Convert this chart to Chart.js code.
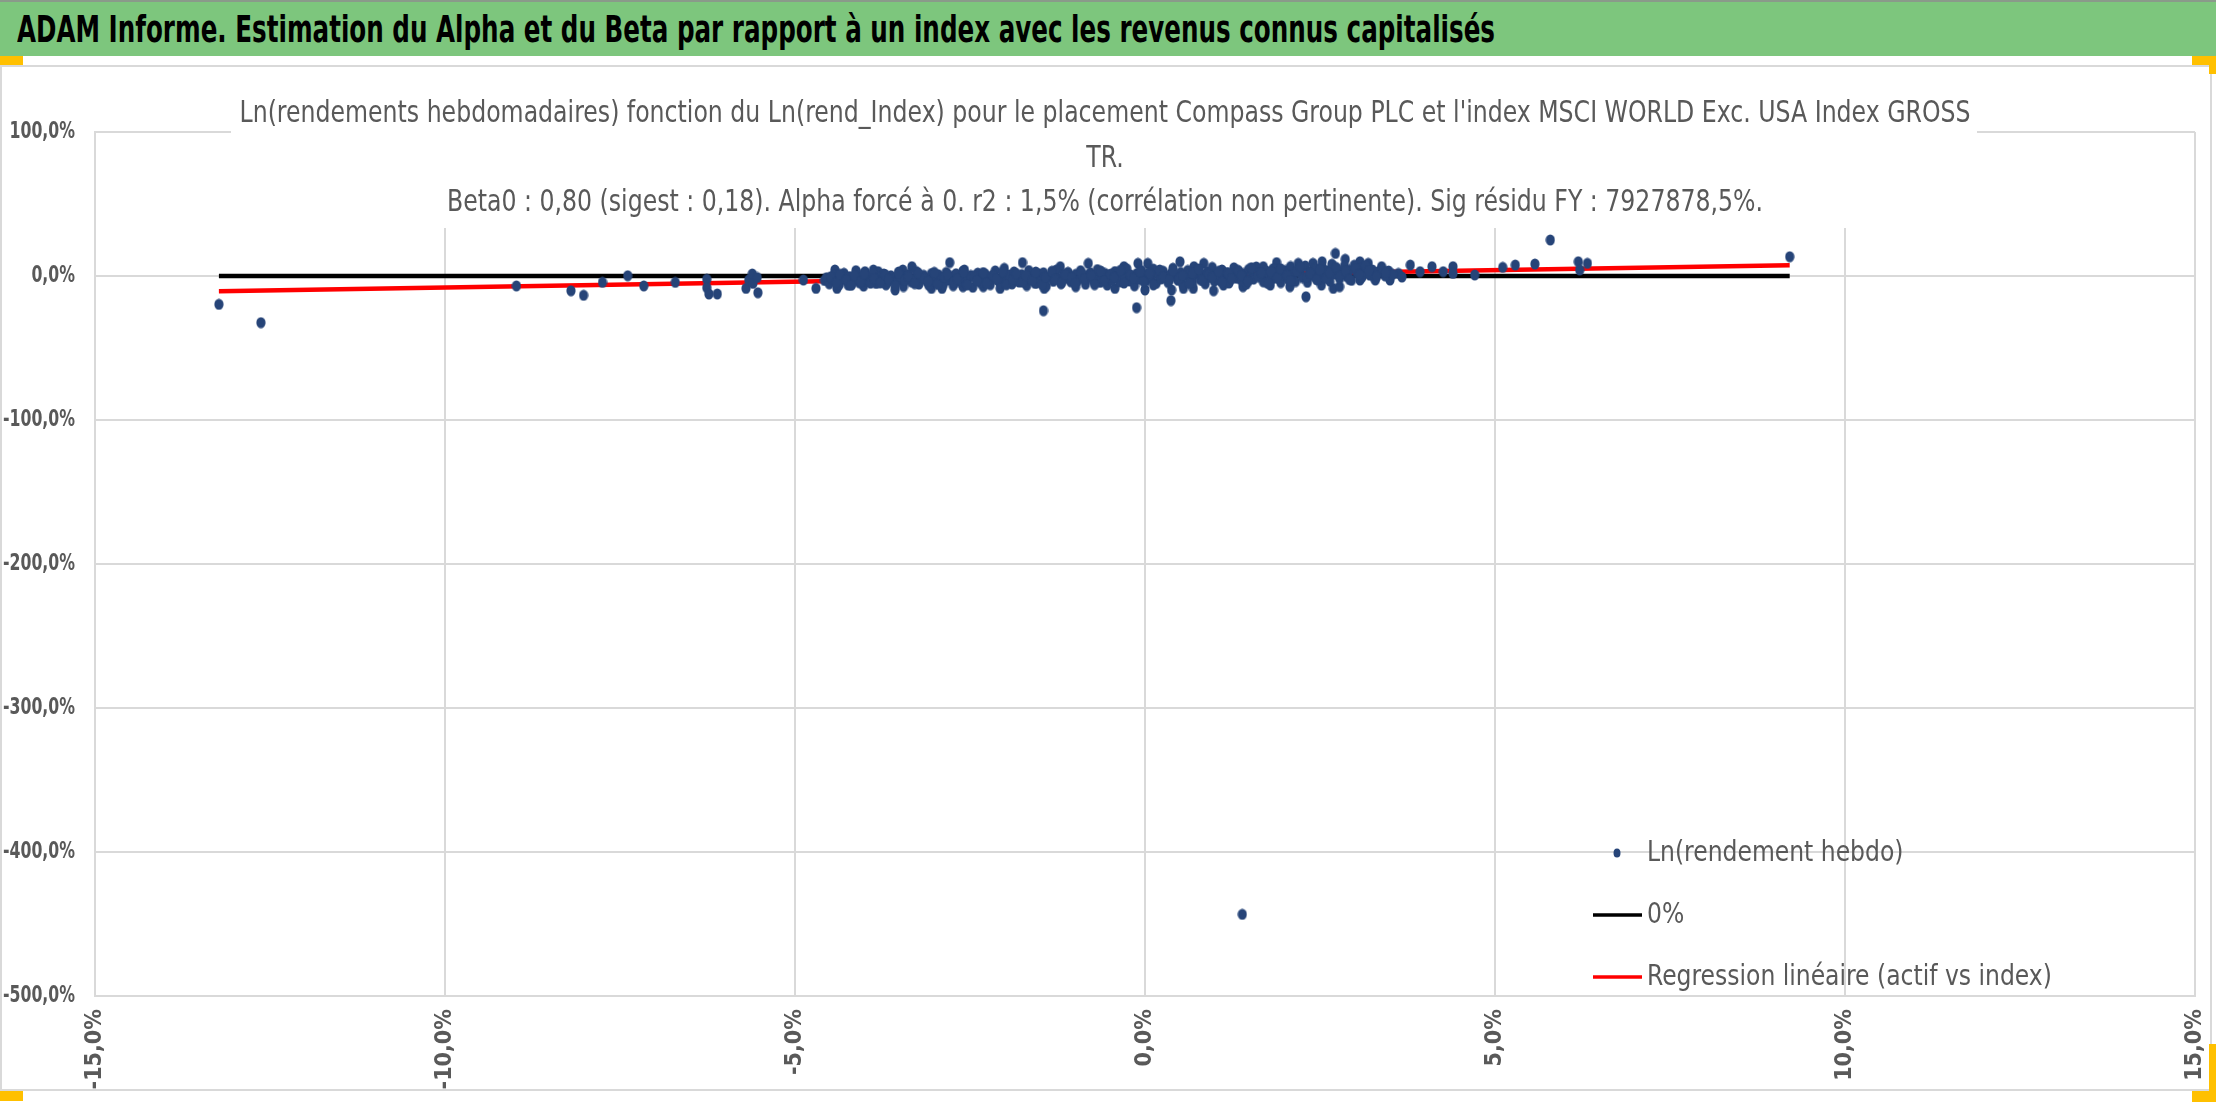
<!DOCTYPE html>
<html lang="fr">
<head>
<meta charset="utf-8">
<title>ADAM Informe - Alpha et Beta</title>
<script src="https://cdn.jsdelivr.net/npm/chart.js"></script>
<style>
  html, body { margin: 0; padding: 0; background: #fff; overflow: hidden; }
  #page { position: relative; width: 2216px; height: 1104px; }
  #cadre { position: absolute; left: 0; top: 65px; width: 2212px; height: 1026px;
           border: 2px solid #d9d9d9; box-sizing: border-box; }
  #zone { position: absolute; left: 0; top: 0; width: 2216px; height: 1104px; }
  #bandeau { position: absolute; left: 0; top: 0; width: 2216px; height: 56px;
             background: #7dc67d; border-top: 2px solid #8a9a8a; box-sizing: border-box; }
  #bandeau span { position: absolute; left: 17px; top: 1px; line-height: 52px;
                  font-family: 'DejaVu Sans Condensed', 'Liberation Sans Narrow', 'Open Sans', sans-serif;
                  font-weight: bold; font-size: 38px; color: #000; white-space: nowrap;
                  transform-origin: left center; }
  .poignee { position: absolute; background: #ffc000; }
</style>
</head>
<body>
<div id="page">
  <div id="cadre"></div>
  <div id="zone"><canvas id="graphe"></canvas></div>
  <div id="bandeau"><span id="titreBandeau">ADAM Informe. Estimation du Alpha et du Beta par rapport à un index avec les revenus connus capitalisés</span></div>
  <div class="poignee" style="left:0;top:56px;width:23px;height:9px"></div>
  <div class="poignee" style="left:2192px;top:56px;width:24px;height:9px"></div>
  <div class="poignee" style="left:2209px;top:56px;width:7px;height:18px"></div>
  <div class="poignee" style="left:0;top:1091px;width:23px;height:10px"></div>
  <div class="poignee" style="left:2192px;top:1091px;width:24px;height:11px"></div>
  <div class="poignee" style="left:2209px;top:1044px;width:7px;height:58px"></div>
</div>

<script>
// Police proche de Calibri (condensée)
const FONT = "'DejaVu Sans Condensed', 'Liberation Sans Narrow', 'Open Sans', sans-serif";

// Ln(rend_Index) en % (axe X) / Ln(rendement hebdo) en % (axe Y)
// queue gauche (grosses baisses de l'index)
const queueGaucheX = [-13.23,-12.63,-8.98,-8.20,-8.02,-7.75,-7.39,-7.16,-6.71,-6.26,-6.26,-6.23,-6.11,-5.70,-5.66,-5.61,-5.60,-5.54,-5.53,-4.88,-4.70];
const queueGaucheY = [-19.7,-32.4,-6.9,-10.2,-13.4,-4.4,0.2,-6.9,-4.4,-2.3,-8.1,-12.5,-12.5,-8.6,-2.8,1.4,-5.1,-1.0,-11.6,-2.8,-8.6];

// bords du nuage (points qui dépassent en haut / en bas)
const bordsX = [-4.43,-4.40,-4.24,-4.13,-4.00,-3.88,-3.81,-3.57,-3.46,-3.33,
  -3.05,-2.90,-2.79,-2.60,-2.58,-2.31,-2.07,-2.01,-1.75,-1.57,
  -1.45,-1.44,-1.21,-0.99,-0.81,-0.43,-0.30,-0.12,-0.10,0.00,
  0.04,0.37,0.38,0.50,0.55,0.69,0.70,0.84,0.98,1.12,
  1.40,1.69,1.79,1.88,2.07,2.19,2.30,2.40,2.52,2.53,
  2.69,2.72,2.78,2.86,3.07,3.07,3.19,3.29,3.38,3.50,
  3.62,3.67,3.79];
const bordsY = [4.2,-8.6,-6.3,3.7,3.0,4.2,3.0,-9.7,4.2,6.5,
  -8.6,-8.6,9.3,-7.4,4.2,-7.4,-8.6,5.3,9.3,-5.1,
  -24.1,-8.6,6.5,-7.4,8.8,-8.6,6.5,-22.0,8.8,-9.7,
  8.8,-17.1,-9.7,9.9,-8.6,-8.6,6.5,8.8,-10.2,-6.3,
  -7.4,6.5,-6.3,9.3,-7.4,8.8,-14.4,8.8,-6.3,9.9,
  -8.6,15.7,-7.4,11.6,9.9,-2.8,8.8,-2.8,6.5,-2.8,
  1.8,-0.7,7.6];

// coeur du nuage
const nuageX = [
  -4.58,-4.55,-4.51,-4.47,-4.44,-4.40,-4.37,-4.33,-4.30,-4.26,-4.22,-4.19,-4.15,-4.12,-4.08,-4.05,-4.02,
  -3.98,-3.95,-3.91,-3.88,-3.84,-3.80,-3.77,-3.73,-3.70,-3.66,-3.63,-3.59,-3.55,-3.52,-3.48,-3.45,-3.41,-3.38,-3.34,-3.30,-3.27,-3.23,-3.20,-3.16,-3.12,-3.09,-3.05,-3.02,
  -2.98,-2.95,-2.91,-2.88,-2.84,-2.81,-2.77,-2.74,-2.70,-2.67,-2.63,-2.60,-2.56,-2.53,-2.49,-2.46,-2.42,-2.39,-2.35,-2.32,-2.28,-2.25,-2.21,-2.18,-2.14,-2.11,-2.07,-2.04,-2.01,
  -1.97,-1.94,-1.90,-1.87,-1.83,-1.80,-1.76,-1.73,-1.69,-1.66,-1.62,-1.59,-1.55,-1.52,-1.48,-1.45,-1.41,-1.38,-1.34,-1.31,-1.27,-1.24,-1.20,-1.17,-1.13,-1.10,-1.06,-1.03,
  -0.99,-0.96,-0.92,-0.89,-0.85,-0.82,-0.78,-0.75,-0.71,-0.68,-0.64,-0.61,-0.57,-0.54,-0.50,-0.47,-0.43,-0.40,-0.36,-0.33,-0.29,-0.26,-0.22,-0.19,-0.15,-0.12,-0.08,-0.05,-0.02,
  0.02,0.05,0.09,0.12,0.16,0.19,0.23,0.26,0.30,0.33,0.37,0.40,0.44,0.47,0.51,0.54,0.58,0.61,0.65,0.68,0.72,0.75,0.79,0.82,0.86,0.89,0.93,0.96,0.99,
  1.03,1.06,1.10,1.13,1.17,1.20,1.24,1.27,1.31,1.34,1.38,1.41,1.45,1.48,1.52,1.55,1.59,1.62,1.66,1.69,1.73,1.76,1.80,1.83,1.87,1.90,1.94,1.97,
  2.01,2.04,2.08,2.11,2.15,2.18,2.22,2.25,2.29,2.32,2.36,2.39,2.43,2.46,2.50,2.53,2.57,2.60,2.64,2.67,2.71,2.74,2.78,2.81,2.85,2.88,2.92,2.95,2.99,
  3.03,3.06,3.10,3.13,3.17,3.21,3.25,3.29,3.33,3.38,3.43,3.48,3.54];
const nuageY = [
  -3.1,-1.2,-5.4,-2.0,0.8,-4.1,-6.2,-1.5,1.9,-3.3,-0.4,-5.8,-2.6,2.4,-4.7,-1.1,-7.0,
  0.6,-3.8,-1.9,2.1,-5.2,-0.7,-2.9,1.4,-6.1,-3.5,0.2,-1.6,-4.4,2.8,-2.2,-7.3,-0.9,1.1,-4.0,-2.5,3.2,-5.6,-1.3,0.5,-3.6,-6.4,1.7,-2.0,
  -4.3,0.9,-1.7,-5.9,2.5,-2.8,-0.3,-6.7,1.6,-3.9,-1.0,3.4,-5.0,-2.3,0.4,-7.8,-1.4,2.0,-4.6,-0.6,1.3,-3.2,-6.0,0.0,3.6,-2.7,-4.9,-1.2,1.9,
  -3.0,0.7,-5.5,2.9,-1.8,-4.2,1.0,-0.5,-6.6,3.8,-2.4,-0.1,-4.8,1.5,-3.4,2.3,-7.1,-1.0,0.3,-3.7,4.1,-2.1,-5.3,0.8,-1.5,2.6,-4.0,-0.8,
  1.2,-3.3,3.7,-1.1,-5.7,0.4,2.2,-2.6,-0.2,4.5,-4.4,-1.7,1.8,-6.3,0.9,-2.9,3.1,-0.7,-4.1,2.7,-1.4,5.0,-3.5,0.1,-6.8,1.6,-2.2,3.9,-0.4,
  -3.2,2.0,-0.9,4.8,-5.1,0.6,-2.0,3.3,-1.2,-4.6,1.4,5.4,-0.3,-3.0,2.5,-6.0,0.2,3.9,-1.9,-4.3,1.1,4.4,-2.5,0.7,-5.4,2.9,-1.0,6.0,-3.6,
  1.5,-2.8,4.2,-0.6,2.4,-4.9,0.9,5.7,-1.6,3.0,-3.3,1.8,-5.6,4.6,0.3,-2.2,6.3,2.1,-0.8,-4.0,3.6,1.0,-2.9,5.1,-1.3,2.7,-4.6,0.5,
  3.9,-2.0,6.6,0.8,-3.9,4.4,2.0,-1.1,7.0,-4.4,3.1,0.2,5.5,-2.6,1.6,6.2,-0.5,3.7,-3.6,8.2,1.3,4.9,-1.8,2.6,6.9,-0.2,4.0,-3.0,7.5,
  2.2,5.3,-0.8,3.4,6.1,0.6,4.2,-1.7,2.8,5.0,0.1,3.5,1.2];

// deuxième couche du nuage (semaines qui se superposent)
const nuage2X = [
  -4.49,-4.41,-4.36,-4.27,-4.20,-4.15,-4.06,-4.01,-3.92,-3.87,
  -3.78,-3.71,-3.66,-3.57,-3.52,-3.43,-3.38,-3.29,-3.24,-3.15,
  -3.10,-3.01,-2.96,-2.87,-2.82,-2.73,-2.68,-2.59,-2.54,-2.45,
  -2.40,-2.31,-2.26,-2.17,-2.12,-2.03,-1.98,-1.89,-1.84,-1.75,
  -1.70,-1.61,-1.56,-1.47,-1.42,-1.33,-1.28,-1.19,-1.14,-1.05,
  -1.00,-0.91,-0.86,-0.77,-0.72,-0.63,-0.58,-0.49,-0.44,-0.35,
  -0.30,-0.21,-0.16,-0.07,-0.02,0.07,0.12,0.21,0.26,0.35,
  0.40,0.49,0.54,0.63,0.68,0.77,0.82,0.91,0.96,1.05,
  1.10,1.19,1.24,1.33,1.38,1.47,1.52,1.61,1.66,1.75,
  1.80,1.89,1.94,2.03,2.08,2.17,2.22,2.31,2.36,2.45,
  2.50,2.59,2.64,2.73,2.78,2.87,2.92,3.01,3.06,3.15,
  3.20,3.31,3.44];
const nuage2Y = [
  -0.5,-4.5,1.2,-2.7,-6.5,0.3,-3.9,1.6,-5.0,-1.8,
  -4.8,0.9,-2.4,-6.9,1.8,-3.1,-0.2,-5.3,2.2,-1.5,
  -3.7,2.6,-5.8,-0.8,1.0,-4.2,-2.0,2.7,-6.2,-0.1,
  -3.3,2.4,-5.1,0.6,-1.9,3.0,-6.1,-2.6,1.7,-4.3,
  0.2,-3.0,2.8,-5.9,-0.9,3.3,-2.3,-4.6,1.1,-1.2,
  -5.0,2.1,-2.0,0.5,-6.0,3.4,-3.4,1.3,-0.9,4.0,
  -4.9,0.8,-1.6,3.0,-3.9,1.9,-6.2,4.2,-0.5,-2.7,
  3.6,-1.5,0.4,-5.2,2.0,4.9,-3.1,1.2,-0.7,3.3,
  -4.2,1.9,-1.9,4.0,0.2,-3.5,5.8,-0.4,2.2,-5.0,
  2.9,-1.2,5.0,0.5,-3.2,3.4,6.4,-0.9,1.9,-2.4,
  4.5,-1.6,2.3,6.0,-0.1,3.2,-2.4,5.2,1.1,7.1,
  3.8,-0.3,2.5];

// queue droite
const queueDroiteX = [3.93,4.10,4.26,4.40,4.40,4.71,5.11,5.29,5.57,5.79,6.19,6.21,6.32,9.21];
const queueDroiteY = [3.0,6.5,3.0,6.5,1.8,0.7,6.0,7.6,8.3,25.0,9.9,4.2,8.8,13.4];

// la semaine aberrante
const aberrantX = [1.39];
const aberrantY = [-443.3];

// droites : 0% et régression (Beta0 = 0,80, alpha forcé à 0)
const droiteX = [-13.23, 9.21];
const zeroY = [0, 0];
const regressionY = [-10.6, 7.4];

// axes
const X_MIN = -15, X_MAX = 15, X_PAS = 5;
const Y_MIN = -500, Y_MAX = 100, Y_PAS = 100;

const titreLignes = [
  "Ln(rendements hebdomadaires) fonction du Ln(rend_Index) pour le placement Compass Group PLC et l'index MSCI WORLD Exc. USA Index GROSS",
  "TR.",
  "Beta0 : 0,80 (sigest : 0,18). Alpha forcé à 0. r2 : 1,5% (corrélation non pertinente). Sig résidu FY : 7927878,5%."
];

const BLEU = '#264478';
const GRIS_TEXTE = '#595959';
const GRILLE = '#d9d9d9';

const toutX = [...queueGaucheX, ...bordsX, ...nuageX, ...nuage2X, ...queueDroiteX, ...aberrantX];
const toutY = [...queueGaucheY, ...bordsY, ...nuageY, ...nuage2Y, ...queueDroiteY, ...aberrantY];
const points = toutX.map((x, i) => ({ x: x, y: toutY[i] }));
const ligneZero = droiteX.map((x, i) => ({ x: x, y: zeroY[i] }));
const ligneReg = droiteX.map((x, i) => ({ x: x, y: regressionY[i] }));

const pct = v => v.toFixed(1).replace('.', ',') + '%';

// marqueur Excel : petit ovale un peu plus haut que large
const marque = document.createElement('canvas');
marque.width = 10;
marque.height = 12;
const mc = marque.getContext('2d');
mc.fillStyle = BLEU;
mc.beginPath();
mc.ellipse(5, 6, 4.6, 5.6, 0, 0, Math.PI * 2);
mc.fill();

// bandeau : on resserre le texte sur la largeur d'origine
const sp = document.getElementById('titreBandeau');
const largeurBandeau = sp.getBoundingClientRect().width;
sp.style.transform = 'scaleX(' + (1478 / largeurBandeau) + ')';

// titre Excel : fond blanc par-dessus la grille, texte centré
const titrePlugin = {
  id: 'titreExcel',
  beforeDatasetsDraw(chart) {
    const ctx = chart.ctx;
    ctx.save();
    ctx.fillStyle = '#fff';
    ctx.fillRect(231, 80, 1746, 148);
    ctx.font = '30px ' + FONT;
    const sx = 1731 / ctx.measureText(titreLignes[0]).width;
    ctx.fillStyle = GRIS_TEXTE;
    ctx.textAlign = 'center';
    ctx.textBaseline = 'alphabetic';
    const bases = [122, 167, 211];
    titreLignes.forEach((t, i) => {
      ctx.save();
      ctx.translate(1105, bases[i]);
      ctx.scale(sx, 1);
      ctx.fillText(t, 0, 0);
      ctx.restore();
    });
    ctx.restore();
  }
};

// étiquettes de l'axe Y : mêmes ticks que l'échelle, texte resserré (style Calibri)
const etiquettesYPlugin = {
  id: 'etiquettesY',
  afterDraw(chart) {
    const ctx = chart.ctx;
    const sy = chart.scales.y;
    ctx.save();
    ctx.font = 'bold 23px ' + FONT;
    ctx.fillStyle = GRIS_TEXTE;
    ctx.textAlign = 'right';
    ctx.textBaseline = 'middle';
    sy.ticks.forEach(t => {
      ctx.save();
      ctx.translate(sy.right - 20, sy.getPixelForValue(t.value));
      ctx.scale(0.76, 1);
      ctx.fillText(pct(t.value), 0, 0);
      ctx.restore();
    });
    ctx.restore();
  }
};

// légende dans la zone du graphe, en bas à droite
const legendePlugin = {
  id: 'legendeExcel',
  afterDraw(chart) {
    const ctx = chart.ctx;
    const a = chart.chartArea;
    const x0 = a.right - 578;
    ctx.save();
    ctx.font = '29px ' + FONT;
    ctx.textBaseline = 'middle';
    ctx.textAlign = 'left';
    chart.data.datasets.forEach((ds, i) => {
      const y = a.bottom - 143 + i * 62;
      if (ds.showLine) {
        ctx.strokeStyle = ds.borderColor;
        ctx.lineWidth = 3.5;
        ctx.beginPath();
        ctx.moveTo(x0 - 24, y);
        ctx.lineTo(x0 + 25, y);
        ctx.stroke();
      } else {
        ctx.fillStyle = ds.backgroundColor;
        ctx.beginPath();
        ctx.ellipse(x0, y, 3.5, 4.5, 0, 0, Math.PI * 2);
        ctx.fill();
      }
      ctx.save();
      ctx.translate(x0 + 30, y);
      ctx.scale(0.9, 1);
      ctx.fillStyle = GRIS_TEXTE;
      ctx.fillText(ds.label, 0, 0);
      ctx.restore();
    });
    ctx.restore();
  }
};

new Chart(document.getElementById('graphe'), {
  type: 'scatter',
  data: {
    datasets: [
      {
        label: 'Ln(rendement hebdo)',
        data: points,
        backgroundColor: BLEU,
        pointStyle: marque,
        borderWidth: 0,
        pointRadius: 5,
        pointHoverRadius: 5,
        order: 0
      },
      {
        label: '0%',
        data: ligneZero,
        showLine: true,
        borderColor: '#000000',
        borderWidth: 4.5,
        pointRadius: 0,
        order: 2
      },
      {
        label: 'Regression linéaire (actif vs index)',
        data: ligneReg,
        showLine: true,
        borderColor: '#ff0000',
        borderWidth: 4.5,
        pointRadius: 0,
        order: 1
      }
    ]
  },
  options: {
    responsive: true,
    maintainAspectRatio: false,
    devicePixelRatio: 1,
    animation: false,
    events: [],
    layout: { autoPadding: false, padding: { left: 0, right: 21, top: 132, bottom: 0 } },
    plugins: {
      legend: { display: false },
      tooltip: { enabled: false }
    },
    scales: {
      x: {
        type: 'linear',
        min: X_MIN,
        max: X_MAX,
        afterFit: s => { s.height = 108; s.paddingLeft = 0; s.paddingRight = 0; },
        grid: { color: GRILLE, lineWidth: 2, drawTicks: false },
        border: { color: GRILLE, width: 2 },
        ticks: {
          stepSize: X_PAS,
          autoSkip: false,
          minRotation: 90,
          maxRotation: 90,
          padding: 13,
          color: GRIS_TEXTE,
          font: { family: FONT, size: 23, weight: 'bold' },
          callback: v => pct(v)
        }
      },
      y: {
        type: 'linear',
        min: Y_MIN,
        max: Y_MAX,
        afterFit: s => { s.width = 95; s.paddingTop = 0; s.paddingBottom = 0; },
        grid: { color: GRILLE, lineWidth: 2, drawTicks: false },
        border: { color: GRILLE, width: 2 },
        ticks: {
          stepSize: Y_PAS,
          display: false,
          callback: v => pct(v)
        }
      }
    }
  },
  plugins: [titrePlugin, etiquettesYPlugin, legendePlugin]
});
</script>
</body>
</html>
